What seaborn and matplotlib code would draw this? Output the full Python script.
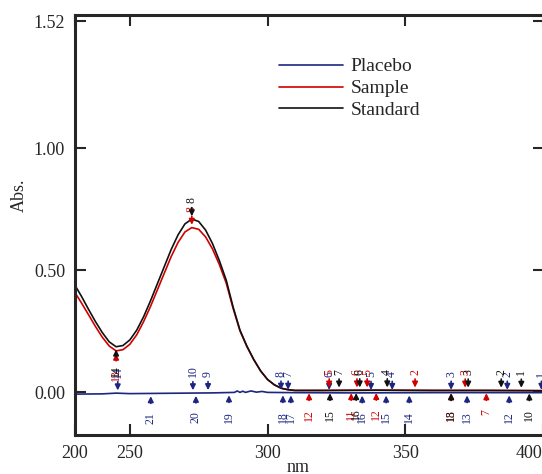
import numpy as np
import pandas as pd
import matplotlib
matplotlib.use("Agg")
import matplotlib.pyplot as plt
import seaborn as sns

# 波长 (nm) 与吸光度
nm_curve = [230, 232.5, 235, 237.5, 240, 242.5, 245, 247.5, 250, 252.5, 255, 257.5,
            260, 262.5, 265, 267.5, 270, 272.5, 275, 277.5, 280, 282.5, 285, 287.5,
            290, 292.5, 295, 297.5, 300, 302.5, 305, 307.5, 310, 320, 340, 360, 380, 400]
standard = [0.440, 0.392, 0.340, 0.290, 0.245, 0.207, 0.187, 0.192, 0.215, 0.255, 0.310, 0.375,
            0.445, 0.515, 0.585, 0.645, 0.690, 0.710, 0.700, 0.665, 0.610, 0.540, 0.460, 0.350,
            0.255, 0.190, 0.135, 0.088, 0.053, 0.031, 0.017, 0.011, 0.008, 0.008, 0.009, 0.008, 0.008, 0.007]
sample = [0.410, 0.365, 0.318, 0.270, 0.226, 0.190, 0.170, 0.175, 0.197, 0.236, 0.290, 0.352,
          0.420, 0.488, 0.556, 0.614, 0.657, 0.675, 0.668, 0.637, 0.588, 0.524, 0.448, 0.344,
          0.252, 0.188, 0.134, 0.088, 0.053, 0.031, 0.017, 0.011, 0.008, 0.008, 0.009, 0.008, 0.008, 0.007]

nm_placebo = [230, 240, 245, 250, 260, 270, 280, 288, 289, 290, 291, 292, 294, 296, 298, 300,
              310, 330, 360, 400]
placebo = [-0.007, -0.006, -0.003, -0.005, -0.004, -0.003, -0.002, 0.0, 0.006, 0.0, 0.005, 0.0,
           0.006, 0.001, 0.004, 0.0, -0.001, -0.002, -0.001, -0.001]

# 峰 / 谷 标记 (波长, 编号)
peaks = {
    "Placebo": [(245.6, "14"), (272.9, "10"), (278.4, "9"), (304.9, "8"), (307.5, "7"), (322.4, "6"),
                (337.6, "5"), (345.3, "4"), (366.7, "3"), (387.1, "2"), (399.5, "1")],
    "Sample": [(272.5, "8"), (322.4, "5"), (332.5, "6"), (336.2, "5"), (353.6, "2"), (371.8, "3")],
    "Standard": [(272.5, "8"), (326.0, "7"), (333.5, "6"), (343.5, "4"), (372.9, "3"), (384.9, "2"),
                 (392.2, "1")],
}
valleys = {
    "Placebo": [(257.6, "21"), (274.0, "20"), (286.0, "19"), (305.6, "18"), (308.5, "17"), (334.4, "16"),
                (343.1, "15"), (351.5, "14"), (372.5, "13"), (387.8, "12")],
    "Sample": [(245.0, "13"), (315.1, "12"), (330.4, "11"), (339.5, "12"), (366.7, "13"), (379.5, "7")],
    "Standard": [(245.0, "14"), (322.7, "15"), (332.2, "16"), (366.7, "18"), (395.1, "10")],
}

series = ["Placebo", "Sample", "Standard"]
colors = {"Placebo": "#1c2580", "Sample": "#d00000", "Standard": "#111111"}

df = pd.concat([
    pd.DataFrame({"nm": nm_placebo, "Abs": placebo, "Series": "Placebo"}),
    pd.DataFrame({"nm": nm_curve, "Abs": sample, "Series": "Sample"}),
    pd.DataFrame({"nm": nm_curve, "Abs": standard, "Series": "Standard"}),
])

sns.set_style("ticks")
plt.rcParams["font.family"] = ["Liberation Serif", "DejaVu Serif"]

fig = plt.figure(figsize=(5.42, 4.74), dpi=100)
ax = fig.add_axes([0.138, 0.082, 0.866, 0.886])

sns.lineplot(data=df, x="nm", y="Abs", hue="Series", hue_order=series, palette=colors,
             estimator=None, sort=True, lw=1.2, ax=ax)

# 峰谷箭头和编号
for name in series:
    xs = df[df.Series == name]
    for w, lab in peaks[name]:
        base = np.interp(w, xs.nm, xs.Abs)
        ax.annotate("", xy=(w, base), xytext=(w, base + 0.058),
                    arrowprops=dict(arrowstyle="-|>", color=colors[name], lw=1.2, mutation_scale=8))
        ax.text(w, base + 0.064, lab, rotation=90, ha="center", va="bottom",
                fontsize=8.5, color=colors[name])
    for w, lab in valleys[name]:
        base = np.interp(w, xs.nm, xs.Abs)
        ax.annotate("", xy=(w, base), xytext=(w, base - 0.052),
                    arrowprops=dict(arrowstyle="-|>", color=colors[name], lw=1.2, mutation_scale=8))
        ax.text(w, base - 0.075, lab, rotation=90, ha="center", va="top",
                fontsize=8.5, color=colors[name])

ax.set_xlim(230, 400.5)
ax.set_ylim(-0.175, 1.545)
ax.set_xticks([230, 250, 300, 350, 400])
ax.set_xticklabels(["200", "250", "300", "350", "400"])
ax.set_yticks([0.0, 0.5, 1.0, 1.52])
ax.set_yticklabels(["0.00", "0.50", "1.00", "1.52"])
ax.tick_params(direction="in", top=True, right=True, length=8, width=1.5, labelsize=13, pad=7)
ax.get_xticklabels()[-1].set_ha("right")
for s in ax.spines.values():
    s.set_linewidth(2.2)

ax.set_xlabel("nm", fontsize=13)
ax.set_ylabel("Abs.", fontsize=13)
ax.xaxis.set_label_coords(0.476, -0.058)
ax.yaxis.set_label_coords(-0.10, 0.571)

ax.legend(loc="upper left", bbox_to_anchor=(0.397, 0.94), frameon=False, fontsize=14,
          handlelength=3.3, handletextpad=0.4, labelspacing=0.22)

fig.savefig("out.png", dpi=100)
